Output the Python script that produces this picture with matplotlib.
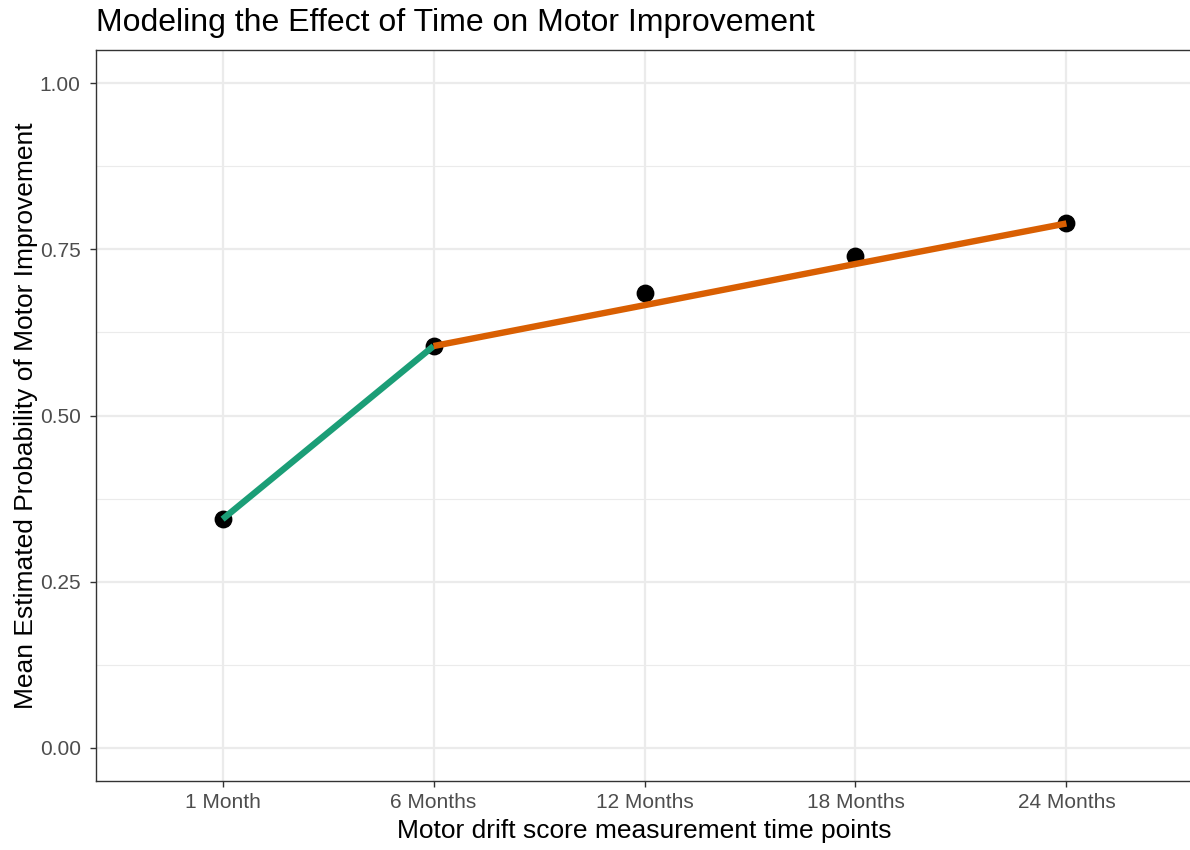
import numpy as np
import matplotlib
matplotlib.use("Agg")
from matplotlib import pyplot as plt
from matplotlib.ticker import MultipleLocator

plt.rcParams['font.family'] = ['Liberation Sans', 'DejaVu Sans']

time_labels = ["1 Month", "6 Months", "12 Months", "18 Months", "24 Months"]
mean_prob = [0.344, 0.6045, 0.684, 0.740, 0.789]

# piecewise fits
early_idx = [0, 1]
early_fit = [0.344, 0.6045]
late_idx = [1, 2, 3, 4]
late_fit = [0.6045, 0.666, 0.728, 0.789]

y_ticks = [0.00, 0.25, 0.50, 0.75, 1.00]

fig = plt.figure(figsize=(11.9, 8.5), dpi=100)
# panel runs slightly past the right edge of the canvas, as in the original
ax = fig.add_axes([96/1190, 1-781/850, (1193-96)/1190, (781-50)/850])

x = np.arange(len(time_labels))
ax.plot(early_idx, early_fit, color="#1B9E77", lw=4.6, solid_capstyle="butt", zorder=4)
ax.plot(late_idx, late_fit, color="#D95F02", lw=4.6, solid_capstyle="butt", zorder=4)
ax.scatter(x, mean_prob, s=140, color="black", zorder=3)

ax.set_xlim(-0.6, len(time_labels) - 0.4)
ax.set_ylim(-0.05, 1.05)
ax.set_xticks(x)
ax.set_xticklabels(time_labels)
ax.set_yticks(y_ticks)
ax.set_yticklabels(["%.2f" % v for v in y_ticks])
ax.yaxis.set_minor_locator(MultipleLocator(0.125))

ax.grid(which="major", color="#EBEBEB", lw=1.6)
ax.grid(which="minor", axis="y", color="#EBEBEB", lw=0.8)
ax.set_axisbelow(True)
ax.tick_params(which="major", length=4, width=1, color="#333333",
               labelcolor="#4D4D4D", labelsize=15, pad=5)
ax.tick_params(axis="y", pad=7)
ax.tick_params(which="minor", length=0)
for s in ax.spines.values():
    s.set_color("#333333")
    s.set_linewidth(1)

ax.set_xlabel("Motor drift score measurement time points", fontsize=19, labelpad=5)
ax.set_ylabel("Mean Estimated Probability of Motor Improvement", fontsize=19, labelpad=1)
ax.set_title("Modeling the Effect of Time on Motor Improvement", fontsize=23,
             loc="left", x=0, pad=14)

fig.savefig("out.png", dpi=100)
